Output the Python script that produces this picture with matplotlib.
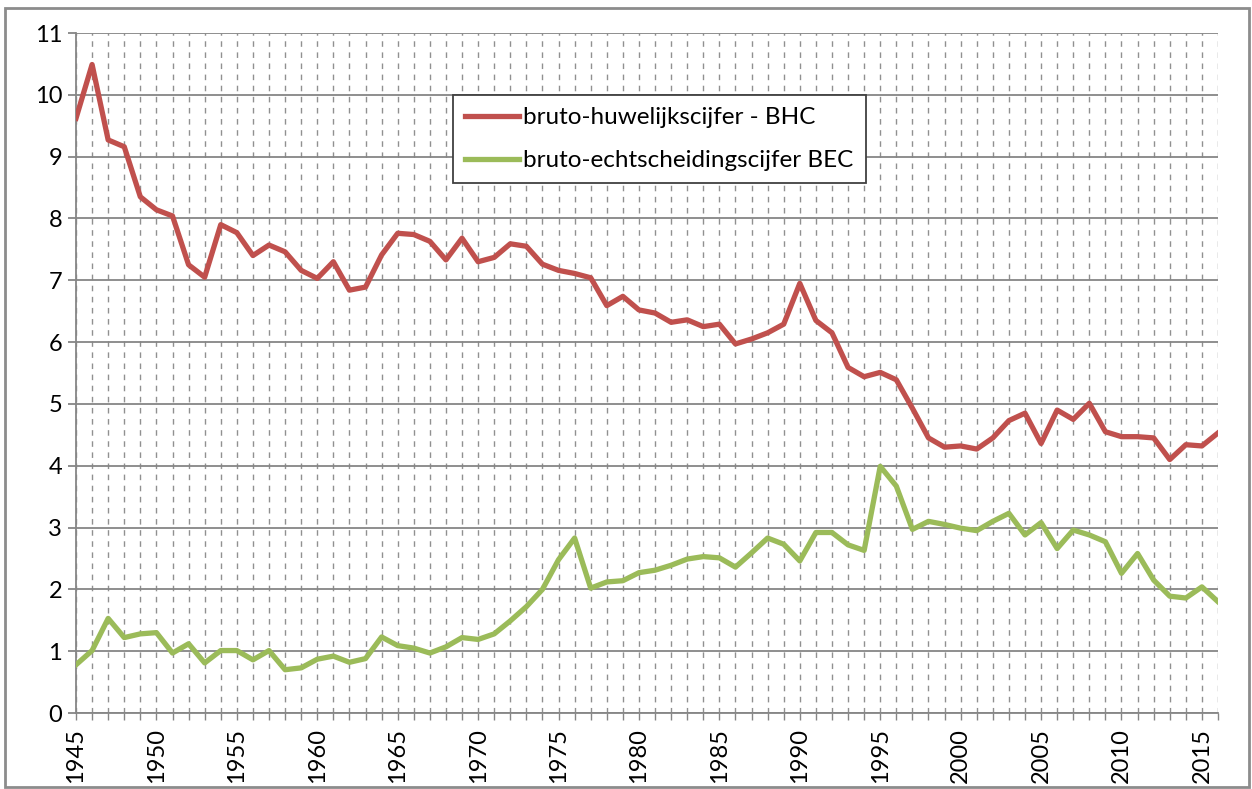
import matplotlib
matplotlib.use("Agg")
import matplotlib.pyplot as plt
import numpy as np
from matplotlib.patches import Rectangle

plt.rcParams['font.family'] = ['Lato', 'DejaVu Sans']

years = np.arange(1945, 2017)

# bruto-huwelijkscijfer (per 1000 inwoners)
bhc = [9.62, 10.49, 9.27, 9.16, 8.35, 8.14, 8.04, 7.25, 7.05, 7.90,
       7.77, 7.40, 7.57, 7.46, 7.16, 7.03, 7.30, 6.84, 6.89, 7.41,
       7.76, 7.74, 7.63, 7.33, 7.68, 7.30, 7.37, 7.59, 7.55, 7.26,
       7.16, 7.11, 7.04, 6.59, 6.74, 6.52, 6.47, 6.32, 6.36, 6.25,
       6.29, 5.97, 6.05, 6.15, 6.29, 6.95, 6.35, 6.15, 5.59, 5.44,
       5.51, 5.39, 4.93, 4.45, 4.30, 4.32, 4.27, 4.45, 4.73, 4.85,
       4.36, 4.90, 4.75, 5.01, 4.55, 4.47, 4.47, 4.45, 4.10, 4.34,
       4.32, 4.53]

# bruto-echtscheidingscijfer
bec = [0.78, 1.01, 1.53, 1.22, 1.28, 1.30, 0.97, 1.12, 0.81, 1.01,
       1.01, 0.86, 1.01, 0.70, 0.73, 0.87, 0.92, 0.82, 0.88, 1.23,
       1.09, 1.05, 0.97, 1.07, 1.22, 1.19, 1.28, 1.49, 1.72, 2.00,
       2.48, 2.83, 2.02, 2.12, 2.14, 2.27, 2.31, 2.39, 2.49, 2.53,
       2.51, 2.36, 2.59, 2.83, 2.73, 2.46, 2.92, 2.92, 2.72, 2.63,
       3.99, 3.67, 2.97, 3.10, 3.05, 2.99, 2.95, 3.10, 3.23, 2.88,
       3.08, 2.66, 2.96, 2.88, 2.77, 2.26, 2.58, 2.15, 1.89, 1.86,
       2.04, 1.80]

labels = ["bruto-huwelijkscijfer - BHC", "bruto-echtscheidingscijfer BEC"]

W, H = 1252, 789
fig = plt.figure(figsize=(W / 100, H / 100), dpi=100)
ax = fig.add_axes([76 / W, 1 - 713 / H, (1218 - 76) / W, (713 - 33) / H])

ax.plot(years, bhc, color="#C0504D", lw=3.8, solid_joinstyle="round", label=labels[0], zorder=3)
ax.plot(years, bec, color="#9BBB59", lw=3.8, solid_joinstyle="round", label=labels[1], zorder=3)

ax.set_xlim(1945, 2016)
ax.set_ylim(0, 11)
ax.set_yticks(range(0, 12))
ax.set_xticks(years)
ax.set_xticklabels([str(y) if y % 5 == 0 else "" for y in years], rotation=90)

grid_c = "#868686"
ax.grid(axis="y", color=grid_c, lw=1.3, ls="-", zorder=0)
ax.grid(axis="x", color="#909090", lw=1.0, ls=(0, (4, 4)), zorder=0)

for s in ["top", "right"]:
    ax.spines[s].set_visible(False)
for s in ["left", "bottom"]:
    ax.spines[s].set_color(grid_c)
    ax.spines[s].set_linewidth(1.3)

ax.tick_params(axis="x", length=5, width=1, color=grid_c, labelsize=17, pad=6, direction="out")
ax.tick_params(axis="y", length=6, width=1.3, color=grid_c, labelsize=17, pad=4, direction="out")

leg = ax.legend(loc="upper left", bbox_to_anchor=(453 / W, 1 - 95 / H),
                bbox_transform=fig.transFigure, fontsize=17.5, frameon=True,
                fancybox=False, borderaxespad=0, handlelength=2.2,
                handletextpad=0.2, borderpad=0.5, labelspacing=0.9)
leg.get_frame().set_edgecolor("#404040")
leg.get_frame().set_linewidth(1.3)
leg.get_frame().set_alpha(1)

fig.patches.append(Rectangle((5 / W, 2 / H), (1249 - 5) / W, (781 - 2) / H,
                             transform=fig.transFigure, fill=False,
                             edgecolor="#8c8c8c", lw=2))

fig.savefig("out.png", dpi=100)
